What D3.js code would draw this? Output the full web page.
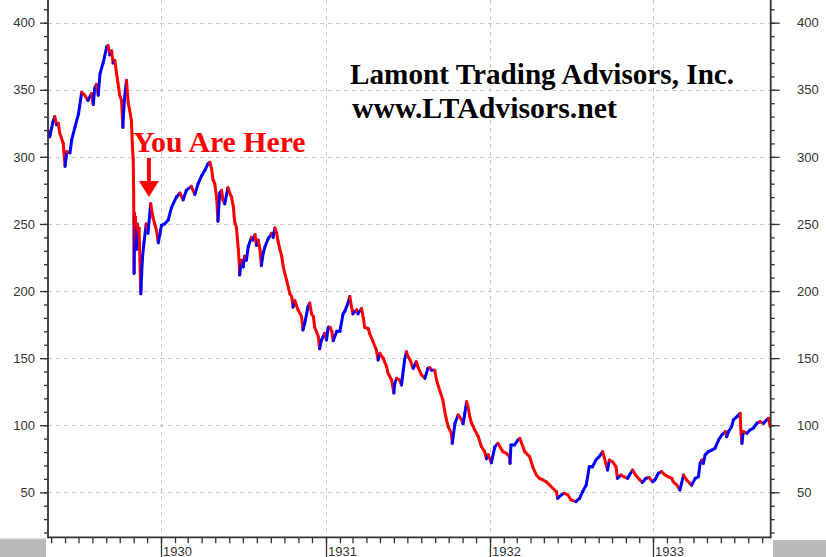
<!DOCTYPE html>
<html>
<head>
<meta charset="utf-8">
<script src="https://cdn.jsdelivr.net/npm/d3@7"></script>
<style>
  body { margin: 0; background: #fff; }
  svg { display: block; }
  .tick-label { font-family: "Liberation Sans", Arial, sans-serif; font-size: 13px; fill: #333; }
</style>
</head>
<body>
<div id="chart"></div>
<script>
// Daily-ish closes, one array per year ["MM-DD", close]
var s1929 = [
  ["04-24",320],["04-28",315],["05-05",326],["05-09",330],["05-13",324],["05-17",325],["05-20",318],
  ["05-28",310],["06-01",293],["06-05",304],["06-12",303],["06-16",313],["06-23",322],["07-01",332],
  ["07-08",348],["07-15",346],["07-22",342],["07-30",347],["08-03",339],["08-06",351],["08-10",354],
  ["08-14",346],["08-18",362],["08-25",370],["09-02",382],["09-05",383],["09-09",376],["09-13",379],
  ["09-16",370],["09-20",372],["09-24",362],["09-27",355],["10-01",346],["10-05",342],["10-08",322],
  ["10-09",330],["10-12",345],["10-16",357],["10-20",340],["10-23",335],["10-27",327],["10-29",310],
  ["10-31",298],["11-01",275],["11-02",213],["11-03",258],["11-04",233],["11-05",255],["11-07",231],
  ["11-09",250],["11-11",240],["11-13",247],["11-15",223],["11-17",198],["11-19",214],["11-21",226],
  ["11-24",236],["11-29",250],["12-03",243],["12-09",265],["12-14",255],["12-22",245],["12-26",236]
];
var s1930 = [
  ["01-02",249],["01-09",250],["01-17",253],["01-24",262],["02-04",270],["02-12",273],["02-19",268],
  ["02-26",275],["03-09",278],["03-17",272],["03-24",280],["04-01",286],["04-08",290],["04-15",295],
  ["04-19",296],["04-23",291],["04-26",283],["04-30",280],["05-04",270],["05-07",252],["05-08",258],
  ["05-11",273],["05-15",275],["05-18",268],["05-22",265],["05-26",272],["05-29",277],["06-02",273],
  ["06-06",270],["06-10",263],["06-12",255],["06-13",252],["06-17",247],["06-21",231],["06-23",221],
  ["06-24",212],["06-28",223],["07-02",218],["07-05",226],["07-09",223],["07-13",233],["07-20",240],
  ["07-24",238],["07-28",242],["07-31",234],["08-04",238],["08-08",231],["08-11",219],["08-15",228],
  ["08-19",233],["08-26",239],["09-03",243],["09-06",240],["09-10",247],["09-14",243],["09-17",237],
  ["09-21",231],["09-25",226],["09-28",219],["10-02",213],["10-06",208],["10-13",198],["10-17",196],
  ["10-20",188],["10-24",193],["10-31",186],["11-08",181],["11-11",171],["11-15",176],["11-22",188],
  ["11-26",191],["11-30",183],["12-04",181],["12-07",173],["12-15",166],["12-18",157],["12-22",163.5],
  ["12-29",168.5]
];
var s1931 = [
  ["01-02",163.5],["01-06",173],["01-10",173],["01-14",170],["01-17",163],["01-25",170],["02-01",170],
  ["02-08",183],["02-12",185],["02-19",191],["02-23",196],["02-27",188],["03-02",183],["03-10",186],
  ["03-13",183],["03-21",187],["03-25",180],["03-28",173],["04-05",172],["04-08",168.5],["04-16",162],
  ["04-23",156],["04-27",148.6],["05-01",153.6],["05-08",150],["05-16",143.6],["05-19",138.7],
  ["05-27",133.7],["06-01",124],["06-03",131],["06-07",135],["06-14",133.7],["06-18",130],["06-22",141],
  ["06-25",148.6],["06-29",154.8],["07-03",151],["07-07",148.6],["07-14",142.4],["07-21",147.3],
  ["07-25",143],["08-02",137.4],["08-09",135],["08-16",142.4],["08-20",143],["08-24",141],["08-31",141],
  ["09-04",133.7],["09-11",126],["09-18",119],["09-22",111],["09-26",104],["09-30",99],["10-07",94],
  ["10-09",86.5],["10-15",101.4],["10-22",107.6],["10-30",104],["11-02",101],["11-06",109],
  ["11-10",117.5],["11-13",113.8],["11-17",106.4],["11-21",101.4],["11-28",96.5],["12-06",91.4],
  ["12-13",84],["12-20",80.3],["12-24",75],["12-28",78]
];
var s1932 = [
  ["01-04",72],["01-12",84],["01-19",86.5],["01-30",80.3],["02-07",79],["02-14",76.5],["02-15",71.6],
  ["02-17",85.3],["02-25",85.3],["03-04",89],["03-08",90.2],["03-12",86.5],["03-19",80.3],["03-30",76.5],
  ["04-06",69],["04-14",62.9],["04-21",60.4],["04-29",59.2],["05-06",57.9],["05-14",55.4],["05-21",53],
  ["05-29",50.5],["06-01",45.5],["06-09",48],["06-16",49.3],["06-24",48],["07-01",44.3],["07-12",43],
  ["07-20",45.5],["07-27",50.5],["08-04",55.4],["08-11",69],["08-18",69],["08-26",74],["09-02",76.5],
  ["09-10",80.3],["09-17",71.6],["09-21",66.6],["09-25",74],["10-02",72.8],["10-10",69],["10-13",60.4],
  ["10-21",62.9],["10-28",61.6],["11-05",60.4],["11-16",66.6],["11-23",62.9],["12-01",59.8],
  ["12-08",57.3],["12-16",60.4],["12-23",61],["12-31",57.9]
];
var s1933 = [
  ["01-05",59.2],["01-13",64.2],["01-20",65.4],["01-28",62.9],["02-04",61.6],["02-12",60.4],["02-15",57.9],
  ["02-23",55.4],["03-02",51.7],["03-10",62.9],["03-17",59.2],["03-24",56.7],["03-28",55.4],["04-05",60.4],
  ["04-12",61.6],["04-16",71.6],["04-20",74],["04-23",71.6],["04-27",77.8],["05-04",80.3],["05-12",81.5],
  ["05-19",82.8],["05-27",89],["06-03",92.7],["06-11",95.2],["06-14",91.4],["06-18",95.2],["06-25",98.9],
  ["06-29",104],["07-07",106.4],["07-14",108.9],["07-16",94],["07-18",86.5],["07-21",95.2],["07-29",94],
  ["08-05",96.4],["08-12",97.7],["08-20",101.4],["08-27",102.7],["09-04",101.4],["09-11",104],
  ["09-15",105.2],["09-19",98.9]
];

var years = [1930, 1931, 1932, 1933];
var yMajor = [50, 100, 150, 200, 250, 300, 350, 400];
var titleLines = ["Lamont Trading Advisors, Inc.", "www.LTAdvisors.net"];
var note = { text: "You Are Here", date: "1929-12-05", value: 270 };

var W = 826, H = 557;
var left = 48, right = 770.7, bottom = 537.3;
var parse = d3.timeParse("%Y-%m-%d");

var series = [];
[[1929, s1929], [1930, s1930], [1931, s1931], [1932, s1932], [1933, s1933]].forEach(function (p) {
  p[1].forEach(function (d) {
    series.push({ date: parse(p[0] + "-" + d[0]), value: d[1] });
  });
});

var x = d3.scaleTime()
  .domain([parse("1929-04-24")].concat(years.map(function (y) { return new Date(y, 0, 1); }), [parse("1933-09-20")]))
  .range([left, 161, 326, 490, 653, right]);
var y = d3.scaleLinear().domain([50, 400]).range([492.3, 22.7]);

var svg = d3.select("#chart").append("svg").attr("width", W).attr("height", H);
svg.append("rect").attr("width", W).attr("height", H).attr("fill", "#fff");

// grid
var grid = svg.append("g").attr("stroke", "#c8c8c8").attr("stroke-dasharray", "4,4").attr("stroke-width", 1);
grid.selectAll(".hg").data(yMajor).enter().append("line")
  .attr("x1", left).attr("x2", right)
  .attr("y1", function (d) { return Math.round(y(d)) + 0.5; })
  .attr("y2", function (d) { return Math.round(y(d)) + 0.5; });
grid.selectAll(".vg").data(years).enter().append("line")
  .attr("y1", 0).attr("y2", bottom)
  .attr("x1", function (d) { return Math.round(x(new Date(d, 0, 1))) + 0.5; })
  .attr("x2", function (d) { return Math.round(x(new Date(d, 0, 1))) + 0.5; });

// gray corner boxes
svg.append("rect").attr("x", 0).attr("y", 538).attr("width", 46).attr("height", 19).attr("fill", "#b9b9b9");
svg.append("rect").attr("x", 0).attr("y", 538).attr("width", 46).attr("height", 1.5).attr("fill", "#dcdcdc");
svg.append("rect").attr("x", 773).attr("y", 540).attr("width", 53).attr("height", 17).attr("fill", "#b9b9b9");

// price line, segment coloured by direction
svg.append("clipPath").attr("id", "plot").append("rect")
  .attr("x", left).attr("y", 0).attr("width", right - left).attr("height", bottom);
var segs = d3.pairs(series);
svg.append("g").attr("clip-path", "url(#plot)")
  .selectAll("line").data(segs).enter().append("line")
  .attr("x1", function (d) { return x(d[0].date); })
  .attr("y1", function (d) { return y(d[0].value); })
  .attr("x2", function (d) { return x(d[1].date); })
  .attr("y2", function (d) { return y(d[1].value); })
  .attr("stroke", function (d) { return d[1].value >= d[0].value ? "#0000ff" : "#ff0000"; })
  .attr("stroke-width", 3)
  .attr("stroke-linecap", "round");

// axes
var yLeft = d3.axisLeft(y).tickValues(d3.range(20, 411, 10)).tickSize(4).tickFormat("");
var yLeftMajor = d3.axisLeft(y).tickValues(yMajor).tickSize(8).tickFormat("");
var yRight = d3.axisRight(y).tickValues(d3.range(20, 411, 10)).tickSize(4).tickFormat("");
var yRightMajor = d3.axisRight(y).tickValues(yMajor).tickSize(9).tickFormat("");
var xMinor = d3.axisBottom(x).tickValues(d3.timeMonth.range(parse("1929-04-24"), parse("1933-09-20"))).tickSize(6).tickFormat("");
var xMajor = d3.axisBottom(x).tickValues(years.map(function (v) { return new Date(v, 0, 1); })).tickSize(20).tickFormat("");

function styleAxis(g) {
  g.select(".domain").remove();
  g.selectAll("line").attr("stroke", "#333").attr("stroke-width", 1.3);
}
svg.append("g").attr("transform", "translate(" + left + ",0)").call(yLeft).call(styleAxis);
svg.append("g").attr("transform", "translate(" + left + ",0)").call(yLeftMajor).call(styleAxis);
svg.append("g").attr("transform", "translate(" + right + ",0)").call(yRight).call(styleAxis);
svg.append("g").attr("transform", "translate(" + right + ",0)").call(yRightMajor).call(styleAxis);
svg.append("g").attr("transform", "translate(0," + bottom + ")").call(xMinor).call(styleAxis);
svg.append("g").attr("transform", "translate(0," + bottom + ")").call(xMajor).call(styleAxis);

svg.append("line").attr("x1", left).attr("x2", left).attr("y1", 0).attr("y2", bottom + 1)
  .attr("stroke", "#333").attr("stroke-width", 1.8);
svg.append("line").attr("x1", right).attr("x2", right).attr("y1", 0).attr("y2", bottom + 1)
  .attr("stroke", "#333").attr("stroke-width", 1.8);
svg.append("line").attr("x1", left).attr("x2", right).attr("y1", bottom).attr("y2", bottom)
  .attr("stroke", "#333").attr("stroke-width", 1.8);

// tick labels
svg.selectAll(".yl").data(yMajor).enter().append("text").attr("class", "tick-label")
  .attr("x", 35).attr("y", function (d) { return y(d); }).attr("dy", "0.36em")
  .attr("text-anchor", "end").text(function (d) { return d; });
svg.selectAll(".yr").data(yMajor).enter().append("text").attr("class", "tick-label")
  .attr("x", 797).attr("y", function (d) { return y(d); }).attr("dy", "0.36em")
  .text(function (d) { return d; });
svg.selectAll(".xl").data(years).enter().append("text").attr("class", "tick-label")
  .attr("x", function (d) { return x(new Date(d, 0, 1)) + 2; }).attr("y", 555.5)
  .text(function (d) { return d; });

// titles
svg.selectAll(".title").data(titleLines).enter().append("text")
  .attr("x", function (d, i) { return i ? 352 : 350; })
  .attr("y", function (d, i) { return i ? 118 : 84; })
  .style("font-family", "'Liberation Serif', 'Times New Roman', serif")
  .style("font-weight", "bold").style("font-size", function (d, i) { return i ? "29.8px" : "29.2px"; })
  .attr("fill", "#000")
  .text(function (d) { return d; });

// annotation
var tx = x(parse(note.date)), ty = y(note.value);
svg.append("path")
  .attr("d", "M" + (tx - 2) + "," + (ty - 39) + "h4v23h8l-10,16l-10,-16h8z")
  .attr("fill", "#ff0000");
svg.append("text").attr("x", tx - 16).attr("y", ty - 45)
  .style("font-family", "'Liberation Serif', 'Times New Roman', serif")
  .style("font-weight", "bold").style("font-size", "29.8px").attr("fill", "#ff0000")
  .text(note.text);
</script>
</body>
</html>
